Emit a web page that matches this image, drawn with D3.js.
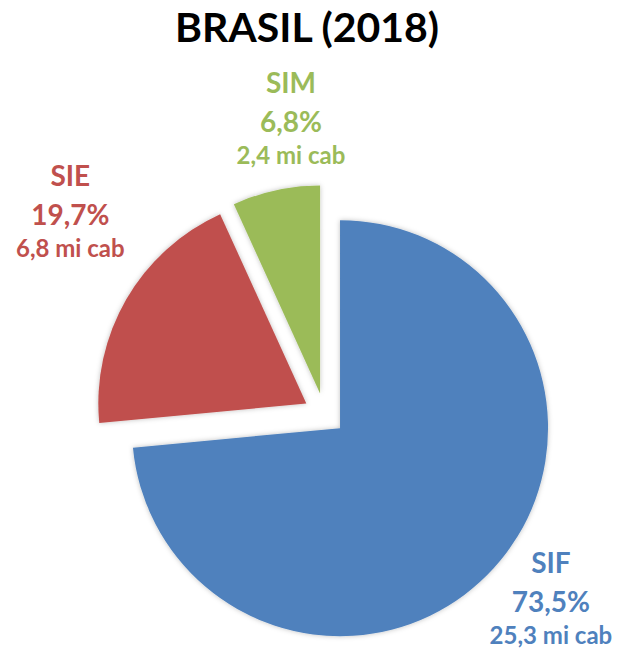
<!DOCTYPE html>
<html>
<head>
<meta charset="utf-8">
<script src="https://cdn.jsdelivr.net/npm/d3@7"></script>
<style>
  body { margin: 0; background: #fff; }
  text { font-family: Lato, "Open Sans", sans-serif; font-weight: bold; }
</style>
</head>
<body>
<svg width="619" height="652"></svg>
<script>
const categories = ['SIF', 'SIE', 'SIM']
const shares = [73.5, 19.7, 6.8]
const heads = ['25,3 mi cab', '6,8 mi cab', '2,4 mi cab']
const colors = ['#4F81BD', '#C0504D', '#9BBB59']

const svg = d3.select('svg')

const cx = 324.5
const cy = 414
const radius = 208
const explode = 21

// label nudges from the outer edge of each slice
const labelOffset = {
  SIF: [57, 44],
  SIE: [-56, -74],
  SIM: [15, -58]
}

const data = categories.map((c, i) => ({ name: c, share: shares[i], heads: heads[i], color: colors[i] }))

const pie = d3.pie()
  .sort(null)
  .value(d => d.share)

const arc = d3.arc()
  .innerRadius(0)
  .outerRadius(radius)

const defs = svg.append('defs')
const shadow = defs.append('filter')
  .attr('id', 'shadow')
  .attr('x', '-20%').attr('y', '-20%')
  .attr('width', '140%').attr('height', '140%')
shadow.append('feDropShadow')
  .attr('dx', 0).attr('dy', 0)
  .attr('stdDeviation', 2.5)
  .attr('flood-color', '#000')
  .attr('flood-opacity', 0.25)

svg.append('text')
  .attr('x', 307)
  .attr('y', 42)
  .attr('text-anchor', 'middle')
  .style('font-size', '41px')
  .style('fill', '#000')
  .text('BRASIL (2018)')

const g = svg.append('g')
  .attr('transform', `translate(${cx}, ${cy})`)

const arcs = pie(data)

const slice = g.selectAll('.slice')
  .data(arcs)
  .enter()
  .append('g')
  .attr('class', 'slice')
  .attr('transform', d => {
    const a = (d.startAngle + d.endAngle) / 2
    return `translate(${explode * Math.sin(a)}, ${-explode * Math.cos(a)})`
  })

slice.append('path')
  .attr('d', arc)
  .attr('fill', d => d.data.color)
  .attr('filter', 'url(#shadow)')

const label = slice.append('g')
  .attr('transform', d => {
    const a = (d.startAngle + d.endAngle) / 2
    const off = labelOffset[d.data.name]
    return `translate(${radius * Math.sin(a) + off[0]}, ${-radius * Math.cos(a) + off[1]})`
  })
  .style('fill', d => d.data.color)
  .attr('text-anchor', 'middle')

label.append('text')
  .attr('y', -39)
  .style('font-size', '28px')
  .text(d => d.data.name)

label.append('text')
  .attr('y', 0)
  .style('font-size', '28px')
  .text(d => d.data.share.toFixed(1).replace('.', ',') + '%')

label.append('text')
  .attr('y', 32)
  .style('font-size', '24px')
  .text(d => d.data.heads)
</script>
</body>
</html>
